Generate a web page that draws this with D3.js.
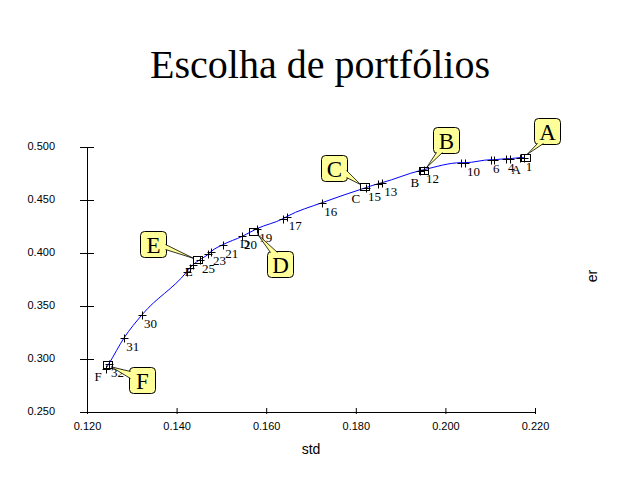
<!DOCTYPE html>
<html>
<head>
<meta charset="utf-8">
<script src="https://cdn.jsdelivr.net/npm/d3@7/dist/d3.min.js"></script>
<style>
  html, body { margin: 0; padding: 0; background: #fff; }
  svg { display: block; }
</style>
</head>
<body>
<svg id="chart" width="640" height="480"></svg>
<script>
// ---------- data ----------
const chartTitle = "Escolha de portfólios";
const xAxisTitle = "std";
const yAxisTitle = "er";

// efficient frontier points (std, er) and their labels
const frontierStd = [0.1242, 0.1249, 0.1283, 0.1323, 0.1423, 0.1430, 0.1437, 0.1452, 0.1470, 0.1477,
                     0.1504, 0.1546, 0.1580, 0.1638, 0.1646, 0.1725, 0.1823, 0.1850, 0.1859,
                     0.1943, 0.1952, 0.2035, 0.2044, 0.2102, 0.2109, 0.2135, 0.2144, 0.2167, 0.2175];
const frontierEr  = [0.2909, 0.2956, 0.3201, 0.3418, 0.3824, 0.3861, 0.3890, 0.3937, 0.3986, 0.4014,
                     0.4080, 0.4156, 0.4231, 0.4325, 0.4344, 0.4475, 0.4617, 0.4654, 0.4664,
                     0.4777, 0.4786, 0.4852, 0.4852, 0.4880, 0.4880, 0.4890, 0.4890, 0.4900, 0.4900];
const frontierLabels = ["", "32", "31", "30", "", "", "", "25", "", "23",
                        "21", "20", "19", "", "17", "16", "15", "", "13",
                        "", "12", "", "10", "6", "", "4", "", "", "1"];

// selected portfolios
const portfolioNames = ["A", "B", "C", "D", "E", "F"];
const portfolioStd   = [0.2178, 0.1952, 0.1820, 0.1572, 0.1447, 0.1245];
const portfolioEr    = [0.4902, 0.4781, 0.4626, 0.4204, 0.3940, 0.2945];

const xTicks = [0.120, 0.140, 0.160, 0.180, 0.200, 0.220];
const yTicks = [0.250, 0.300, 0.350, 0.400, 0.450, 0.500];

// ---------- layout (callout placement, relative to marker) ----------
const calloutLayout = {
  A: { dx: 9,   dy: -39, side: "bottom", t0: 3,  t1: 9,  tipDx: 2,  tipDy: -3 },
  B: { dx: 9,   dy: -43, side: "bottom", t0: 3,  t1: 9,  tipDx: 3,  tipDy: -3 },
  C: { dx: -44, dy: -32, side: "right",  t0: 15, t1: 22, tipDx: -4, tipDy: -2 },
  D: { dx: 13,  dy: 20,  side: "top",    t0: 3,  t1: 10, tipDx: 4,  tipDy: 3 },
  E: { dx: -58, dy: -28, side: "right",  t0: 13, t1: 18, tipDx: -4, tipDy: -1 },
  F: { dx: 22,  dy: 2,   side: "left",   t0: 4,  t1: 11, tipDx: 4,  tipDy: 2 }
};
const boxW = 26, boxH = 26;

// ---------- drawing ----------
const svg = d3.select("#chart");
const x = d3.scaleLinear().domain([0.12, 0.22]).range([87, 535]);
const y = d3.scaleLinear().domain([0.25, 0.50]).range([412, 147]);

svg.append("text")
  .attr("x", 320).attr("y", 78)
  .attr("text-anchor", "middle")
  .attr("font-family", "'Liberation Serif', 'Times New Roman', serif")
  .attr("font-size", 40)
  .text(chartTitle);

// axes
const xAxis = d3.axisBottom(x).tickValues(xTicks).tickFormat(d3.format(".3f"))
  .tickSizeInner(-4).tickSizeOuter(0).tickPadding(12);
const gx = svg.append("g").attr("transform", "translate(0,412)").call(xAxis);
gx.selectAll(".tick line").attr("y2", -4).attr("y1", 2);
gx.selectAll("text").attr("font-family", "'Liberation Sans', Arial, sans-serif").attr("font-size", 11).attr("fill", "#000").attr("dy", "0.5em");

const yAxis = d3.axisLeft(y).tickValues(yTicks).tickFormat(d3.format(".3f"))
  .tickSizeInner(7).tickSizeOuter(0).tickPadding(25);
const gy = svg.append("g").attr("transform", "translate(87,0)").call(yAxis);
gy.selectAll(".tick line").attr("x1", 7).attr("x2", -7);
gy.selectAll("text").attr("font-family", "'Liberation Sans', Arial, sans-serif").attr("font-size", 11).attr("fill", "#000").attr("dy", "0.2em");
svg.selectAll(".domain").attr("stroke", "#000");
svg.selectAll(".tick line").attr("stroke", "#000");

svg.append("text")
  .attr("x", 311).attr("y", 454)
  .attr("text-anchor", "middle")
  .attr("font-family", "'Liberation Sans', Arial, sans-serif")
  .attr("font-size", 14)
  .text(xAxisTitle);
svg.append("text")
  .attr("transform", "translate(597,276) rotate(-90)")
  .attr("text-anchor", "middle")
  .attr("font-family", "'Liberation Sans', Arial, sans-serif")
  .attr("font-size", 14)
  .text(yAxisTitle);

// frontier line
const frontier = frontierStd.map((s, i) => ({ s, e: frontierEr[i], label: frontierLabels[i] }));
const line = d3.line().x(d => x(d.s)).y(d => y(d.e)).curve(d3.curveMonotoneX);
svg.append("path").datum(frontier)
  .attr("d", line).attr("fill", "none").attr("stroke", "#0000ff").attr("stroke-width", 1);

// plus markers
const plus = svg.append("g").attr("stroke", "#000").attr("stroke-width", 1);
frontier.forEach(d => {
  const px = Math.round(x(d.s)) + 0.5, py = Math.round(y(d.e)) + 0.5;
  plus.append("line").attr("x1", px - 4).attr("x2", px + 4).attr("y1", py).attr("y2", py);
  plus.append("line").attr("x1", px).attr("x2", px).attr("y1", py - 4).attr("y2", py + 4);
});
svg.append("g").selectAll("text").data(frontier.filter(d => d.label)).join("text")
  .attr("x", d => x(d.s) + 2).attr("y", d => y(d.e) + 13)
  .attr("font-family", "'Liberation Serif', 'Times New Roman', serif")
  .attr("font-size", 13)
  .text(d => d.label);

// portfolios
const ports = portfolioNames.map((n, i) => ({ n, s: portfolioStd[i], e: portfolioEr[i] }));
ports.forEach(p => {
  const mx = x(p.s), my = y(p.e);
  svg.append("rect")
    .attr("x", Math.round(mx - 4.5) + 0.5).attr("y", Math.round(my - 3.5) + 0.5)
    .attr("width", 9).attr("height", 7)
    .attr("fill", "none").attr("stroke", "#000");
  svg.append("text")
    .attr("x", mx - 9).attr("y", my + 16.5)
    .attr("text-anchor", "middle")
    .attr("font-family", "'Liberation Serif', 'Times New Roman', serif")
    .attr("font-size", 13)
    .text(p.n);

  const L = calloutLayout[p.n];
  const bx = Math.round(mx + L.dx) + 0.5, by = Math.round(my + L.dy) + 0.5;
  let b0, b1;
  if (L.side === "bottom") { b0 = [bx + L.t0, by + boxH - 1]; b1 = [bx + L.t1, by + boxH - 1]; }
  else if (L.side === "top") { b0 = [bx + L.t0, by + 1]; b1 = [bx + L.t1, by + 1]; }
  else if (L.side === "right") { b0 = [bx + boxW - 1, by + L.t0]; b1 = [bx + boxW - 1, by + L.t1]; }
  else { b0 = [bx + 1, by + L.t0]; b1 = [bx + 1, by + L.t1]; }
  const tip = [mx + L.tipDx, my + L.tipDy];

  svg.append("rect")
    .attr("x", bx).attr("y", by).attr("width", boxW).attr("height", boxH)
    .attr("rx", 4).attr("ry", 4)
    .attr("fill", "#ffff99").attr("stroke", "#000").attr("stroke-width", 1);
  svg.append("path")
    .attr("d", `M${b0[0]},${b0[1]}L${tip[0]},${tip[1]}L${b1[0]},${b1[1]}Z`)
    .attr("fill", "#ffff99").attr("stroke", "none");
  svg.append("path")
    .attr("d", `M${b0[0]},${b0[1]}L${tip[0]},${tip[1]}L${b1[0]},${b1[1]}`)
    .attr("fill", "none").attr("stroke", "#000").attr("stroke-width", 0.8);
  svg.append("text")
    .attr("x", bx + boxW / 2).attr("y", by + boxH / 2 + 8)
    .attr("text-anchor", "middle")
    .attr("font-family", "'Liberation Serif', 'Times New Roman', serif")
    .attr("font-size", 23)
    .text(p.n);
});
</script>
</body>
</html>
